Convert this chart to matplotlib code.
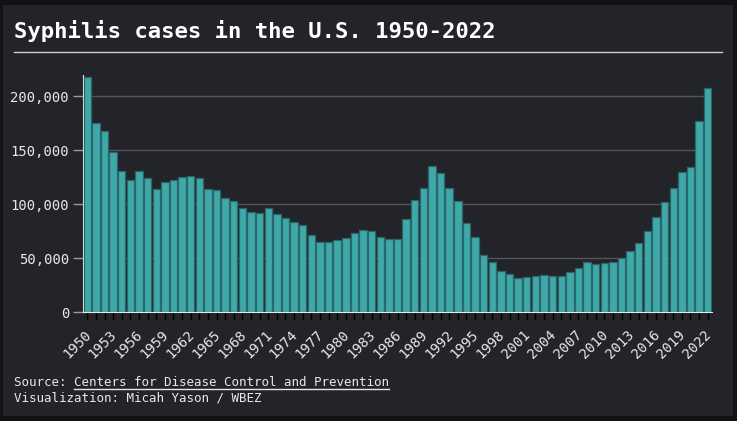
import matplotlib
matplotlib.use("Agg")
import matplotlib.pyplot as plt
from matplotlib.patches import Rectangle
from matplotlib.lines import Line2D
from matplotlib.ticker import FuncFormatter
from matplotlib.transforms import ScaledTranslation

years = list(range(1950, 2023))
cases = [
    217558, 174924, 167762, 148573, 130697, 122392, 130201, 123758, 113884, 120824,
    122538, 124658, 126245, 124137, 114325, 112842, 105159, 102581, 96271, 92162,
    91382, 95997, 91149, 87469, 83771, 80356, 71761, 64621, 64875, 67049,
    68832, 72799, 75579, 74637, 69872, 67563, 67779, 86545, 103437, 114730,
    135590, 128719, 114730, 102612, 82713, 69359, 53240, 46716, 38289, 35628,
    31575, 32284, 32919, 34289, 33423, 33288, 36959, 40920, 46277, 44830,
    45844, 46042, 49915, 56471, 63453, 74702, 88042, 101567, 115045, 129813,
    133945, 176713, 207255,
]
y_ticks = [0, 50000, 100000, 150000, 200000]
title = "Syphilis cases in the U.S. 1950-2022"
source_prefix = "Source: "
source_link = "Centers for Disease Control and Prevention"
credit = "Visualization: Micah Yason / WBEZ"

W, H = 737, 421
BG = "#232429"
OUTER = "#121212"
BAR = "#3fa8a8"
BAR_EDGE = "#2c6668"
TXT = "#e8e8e8"
MONO = ["DejaVu Sans Mono"]

fig = plt.figure(figsize=(W / 100, H / 100), dpi=100, facecolor=OUTER)
fig.add_artist(Rectangle((3 / W, 1 - 416 / H), 730 / W, 411 / H,
                         transform=fig.transFigure, facecolor=BG,
                         edgecolor="none", zorder=-10))

def fx(px):
    return px / W

def fy(py):
    return 1 - py / H

ax = fig.add_axes([fx(83), fy(312), fx(712) - fx(83), fy(75) - fy(312)])
ax.set_zorder(2)
ax.patch.set_alpha(0)

xs = list(range(len(years)))
ax.bar(xs, cases, width=0.86, color=BAR, edgecolor=BAR_EDGE, linewidth=0.9, zorder=3)
ax.set_xlim(-0.5, len(years) - 0.5)
ax.set_ylim(0, 219500)

ax.set_yticks(y_ticks)
ax.yaxis.set_major_formatter(FuncFormatter(lambda v, p: f"{int(v):,}"))
ax.grid(axis="y", color="#555559", linewidth=1, zorder=1)
ax.set_axisbelow(True)
ax.tick_params(axis="y", length=7, width=1, color="#9a9a9a", labelcolor=TXT,
               labelsize=10, pad=3)
for lab in ax.get_yticklabels():
    lab.set_family(MONO)

ax.set_xticks(xs)
ax.set_xticklabels([str(y) if (y - 1950) % 3 == 0 else "" for y in years],
                   rotation=45, ha="right", va="center", rotation_mode="anchor",
                   family=MONO, fontsize=10, color=TXT)
ax.tick_params(axis="x", length=6, width=1, pad=3)
shift = ScaledTranslation(1.5 / 100, -8 / 100, fig.dpi_scale_trans)
for lab in ax.get_xticklabels():
    lab.set_transform(lab.get_transform() + shift)
for i, t in enumerate(ax.xaxis.get_major_ticks()):
    t.tick1line.set_color("#e8e8e8" if i % 3 == 0 else "#7a7a7a")

for s in ["top", "right"]:
    ax.spines[s].set_visible(False)
ax.spines["left"].set_color("#e8e8e8")
ax.spines["bottom"].set_color("#e8e8e8")
ax.spines["bottom"].set_zorder(4)

fig.text(fx(14), fy(31), title, family=MONO, fontsize=16, fontweight="bold",
         color="white", va="center", ha="left")
fig.add_artist(Line2D([fx(14), fx(722)], [fy(52), fy(52)], color="#cfcfcf",
                      linewidth=1, transform=fig.transFigure))

t1 = fig.text(fx(14), fy(382), source_prefix, family=MONO, fontsize=9,
              color=TXT, va="center", ha="left")
fig.canvas.draw()
r = fig.canvas.get_renderer()
bb = t1.get_window_extent(r)
x_link = bb.x1 / W
t2 = fig.text(x_link, fy(382), source_link, family=MONO, fontsize=9,
              color=TXT, va="center", ha="left")
fig.canvas.draw()
bb2 = t2.get_window_extent(r)
fig.add_artist(Line2D([bb2.x0 / W, bb2.x1 / W], [fy(389), fy(389)],
                      color=TXT, linewidth=1, transform=fig.transFigure))
fig.text(fx(14), fy(398), credit, family=MONO, fontsize=9,
         color=TXT, va="center", ha="left")

fig.savefig("out.png", dpi=100, facecolor=OUTER)
